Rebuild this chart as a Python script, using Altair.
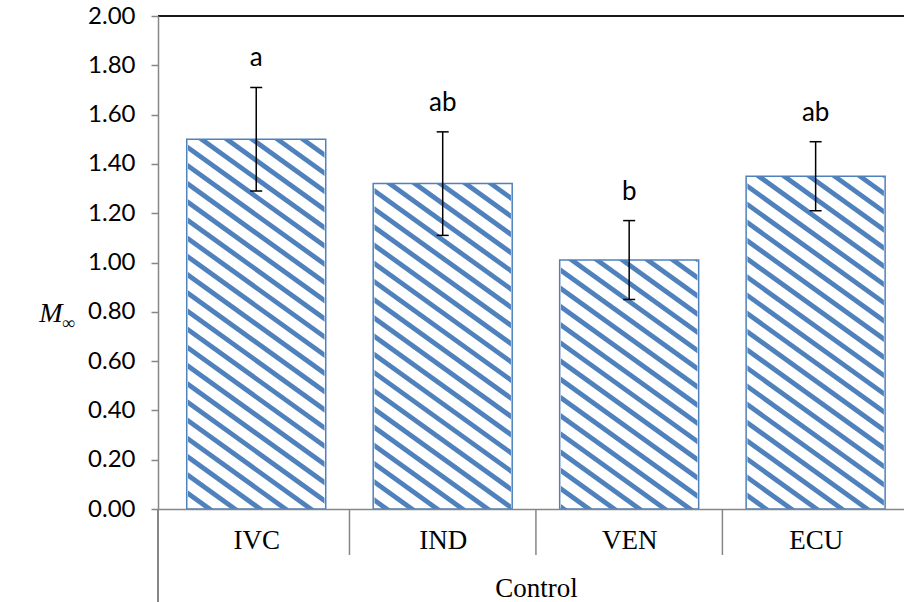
import altair as alt
import numpy as np
import pandas as pd

# ---- data -------------------------------------------------------------
groups = ["IVC", "IND", "VEN", "ECU"]
means = [1.50, 1.32, 1.01, 1.35]
errors = [0.21, 0.21, 0.16, 0.14]
letters = ["a", "ab", "b", "ab"]
y_ticks = [0.0, 0.2, 0.4, 0.6, 0.8, 1.0, 1.2, 1.4, 1.6, 1.8, 2.0]
outer_label = "Control"

# ---- geometry / style -------------------------------------------------
W, H = 746, 493            # plot area in px
BAND = 189                 # px per category
BAR_W = 139                # bar width in px
GAP_W = BAND - BAR_W
X_MAX = W / BAND           # visible part of the category axis
Y_MAX = 2.0
BLUE = "#4F81BD"
GRAY = "#868686"
SERIF = "Liberation Serif"
SANS = "Lato"

# hatch pattern (downward diagonal), defined in plot pixels
STRIPE_SLOPE = 0.71
STRIPE_PERIOD = 18.2
STRIPE_PHASE = 368 - 25 * STRIPE_SLOPE
STRIPE_W = 4.8

df = pd.DataFrame({"group": groups, "mean": means, "err": errors, "letter": letters})
df["pos"] = np.arange(len(groups)) + 0.5
df["lo"] = df["mean"] - df["err"]
df["hi"] = df["mean"] + df["err"]
df["base"] = 0.0
df["top"] = Y_MAX

gaps = pd.DataFrame({"b": np.arange(len(groups) + 1, dtype=float)})
gaps["base"] = 0.0
gaps["top"] = Y_MAX
inner_bounds = gaps[(gaps["b"] > 0)]

full_w = len(groups) * BAND
k_lo = int(np.floor((-STRIPE_SLOPE * full_w - STRIPE_PHASE) / STRIPE_PERIOD)) - 1
k_hi = int(np.ceil((H - STRIPE_PHASE) / STRIPE_PERIOD)) + 1
stripe_rows = []
for k in range(k_lo, k_hi + 1):
    c = STRIPE_PHASE + k * STRIPE_PERIOD
    stripe_rows.append({
        "sx": 0.0,
        "sx2": full_w / BAND,
        "sy": (H - c) / H * Y_MAX,
        "sy2": (H - (c + STRIPE_SLOPE * full_w)) / H * Y_MAX,
    })
stripes = pd.DataFrame(stripe_rows)

# ---- scales & axes ----------------------------------------------------
xs = alt.Scale(domain=[0, X_MAX], nice=False, zero=False)
ys = alt.Scale(domain=[0, Y_MAX], nice=False, zero=True)

label_expr = "[" + ",".join("'%s'" % g for g in groups) + "][round(datum.value - 0.5)]"
x_axis = alt.Axis(
    values=list(df["pos"]), labelExpr=label_expr, grid=False, ticks=False,
    domainColor=GRAY, domainWidth=1.5,
    labelPadding=39, labelBaseline="alphabetic",
    labelFont=SERIF, labelFontSize=27, labelColor="black",
    title=outer_label, titleFont=SERIF, titleFontSize=27, titleFontWeight="normal",
    titleColor="black", titleX=full_w / 2, titleY=87, titleBaseline="alphabetic",
    titleAlign="center", zindex=1,
)
y_axis = alt.Axis(
    values=y_ticks, format=".2f", grid=False,
    domainColor=GRAY, domainWidth=1.5, tickColor=GRAY, tickWidth=1.5, tickSize=7,
    labelPadding=16, labelFont=SANS, labelFontSize=24, labelColor="black",
    title=None, zindex=1,
)


def X(f):
    return alt.X(f, type="quantitative", scale=xs, axis=x_axis)


def Y(f):
    return alt.Y(f, type="quantitative", scale=ys, axis=y_axis)


# ---- layers -----------------------------------------------------------
hatch = alt.Chart(stripes).mark_rule(clip=True, color=BLUE, strokeWidth=STRIPE_W).encode(
    x=X("sx"), x2=alt.X2("sx2"), y=Y("sy"), y2=alt.Y2("sy2")
)
gap_mask = alt.Chart(gaps).mark_bar(clip=True, color="white", size=GAP_W).encode(
    x=X("b"), y=Y("base"), y2=alt.Y2("top")
)
top_mask = alt.Chart(df).mark_bar(clip=True, color="white", size=BAR_W).encode(
    x=X("pos"), y=Y("mean"), y2=alt.Y2("top")
)
bars = alt.Chart(df).mark_bar(
    fill="transparent", stroke=BLUE, strokeWidth=1.5, size=BAR_W
).encode(x=X("pos"), y=Y("mean"), y2=alt.Y2("base"))

err_stem = alt.Chart(df).mark_rule(color="black", strokeWidth=1.5).encode(
    x=X("pos"), y=Y("lo"), y2=alt.Y2("hi")
)
cap_hi = alt.Chart(df).mark_rule(color="black", strokeWidth=1.5, xOffset=-6, x2Offset=6).encode(
    x=X("pos"), x2=alt.X2("pos"), y=Y("hi")
)
cap_lo = alt.Chart(df).mark_rule(color="black", strokeWidth=1.5, xOffset=-6, x2Offset=6).encode(
    x=X("pos"), x2=alt.X2("pos"), y=Y("lo")
)
sig = alt.Chart(df).mark_text(
    font=SANS, fontSize=26, color="black", baseline="alphabetic", dy=-21
).encode(x=X("pos"), y=Y("hi"), text="letter:N")

# category separators below the axis and the outer-level boundary line
separators = alt.Chart(inner_bounds).mark_rule(color=GRAY, strokeWidth=1.5).encode(
    x=X("b"), y=alt.value(H), y2=alt.value(H + 46)
)
left_ext = alt.Chart(df).mark_rule(color=GRAY, strokeWidth=1.5).encode(
    x=alt.value(0), y=alt.value(H), y2=alt.value(H + 93)
)
frame_top = alt.Chart(df).mark_rule(color="#1a1a1a", strokeWidth=1.5).encode(
    x=alt.value(0), x2=alt.value(W), y=alt.value(0)
)

ttl_m = alt.Chart(pd.DataFrame({"t": ["M"]})).mark_text(
    font=SERIF, fontSize=28, fontStyle="italic", color="black", baseline="alphabetic"
).encode(x=alt.value(-107), y=alt.value(306), text="t:N")
ttl_sub = alt.Chart(pd.DataFrame({"t": ["\u221e"]})).mark_text(
    font=SERIF, fontSize=18, fontStyle="italic", color="black", baseline="alphabetic"
).encode(x=alt.value(-89), y=alt.value(313), text="t:N")

chart = alt.layer(
    hatch, gap_mask, top_mask, bars, err_stem, cap_hi, cap_lo, sig,
    separators, left_ext, frame_top, ttl_m, ttl_sub,
).properties(
    width=W, height=H,
    padding={"left": 158, "top": 16, "right": 0, "bottom": 93},
    autosize=alt.AutoSizeParams(type="none"),
    background="white",
).configure_view(stroke=None)

chart.save("out.html", embed_options={"renderer": "svg", "actions": False})
